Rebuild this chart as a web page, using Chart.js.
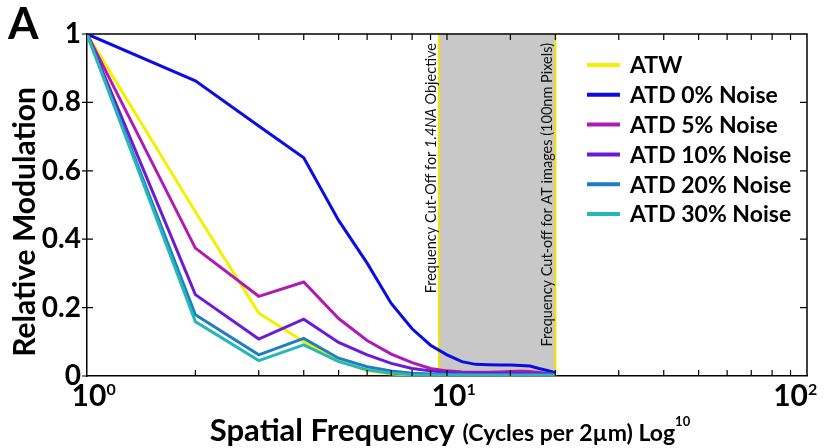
<!DOCTYPE html>
<html>
<head>
<meta charset="utf-8">
<script src="https://cdn.jsdelivr.net/npm/chart.js@4.4.0/dist/chart.umd.min.js"></script>
<style>
  html, body { margin: 0; padding: 0; background: #fff; }
</style>
</head>
<body>
<canvas id="mtf" width="828" height="448"></canvas>
<script>
// spatial frequency samples (cycles per 2um)
const freq = [1, 2, 3, 4, 5, 6, 7, 8, 9, 10, 11, 12, 13, 14, 15, 16, 17, 18, 19, 20];

// relative modulation
const atw    = [1, 0.48, 0.184, 0.100, 0.045, 0.015, 0.006, 0.003, 0.002, 0.001, 0.001, 0.001, 0, 0, 0, 0, 0, 0, 0, 0];
const atd0   = [1, 0.863, 0.731, 0.638, 0.455, 0.330, 0.212, 0.138, 0.090, 0.062, 0.042, 0.034, 0.033, 0.032, 0.032, 0.031, 0.029, 0.022, 0.016, 0.010];
const atd5   = [1, 0.374, 0.233, 0.275, 0.168, 0.104, 0.064, 0.039, 0.022, 0.015, 0.012, 0.011, 0.011, 0.012, 0.013, 0.014, 0.013, 0.010, 0.007, 0.004];
const atd10  = [1, 0.238, 0.108, 0.166, 0.098, 0.062, 0.037, 0.022, 0.015, 0.010, 0.008, 0.008, 0.007, 0.007, 0.007, 0.007, 0.006, 0.006, 0.006, 0.005];
const atd20  = [1, 0.179, 0.062, 0.110, 0.052, 0.027, 0.015, 0.008, 0.006, 0.005, 0.005, 0.004, 0.004, 0.004, 0.004, 0.004, 0.004, 0.004, 0.004, 0.004];
const atd30  = [1, 0.159, 0.045, 0.091, 0.042, 0.018, 0.008, 0.004, 0.003, 0.003, 0.002, 0.002, 0.002, 0.002, 0.002, 0.002, 0.002, 0.002, 0.002, 0.002];

const seriesNames  = ['ATW', 'ATD 0% Noise', 'ATD 5% Noise', 'ATD 10% Noise', 'ATD 20% Noise', 'ATD 30% Noise'];
const seriesValues = [atw, atd0, atd5, atd10, atd20, atd30];
const seriesColors = ['#f2f200', '#0b0be4', '#b01ab4', '#6c1ad6', '#1f7dc2', '#27b7bb'];

// x axis: decades labelled as 10^n
const xTickValues = [1, 10, 100];
const xTickExps   = ['0', '1', '2'];

// shaded band between the two cut-off frequencies
const cutoffs = [9.5, 20];
const cutoffLabels = [
  [['Frequency Cut-Off for ', false], ['1.4NA', true], [' Objective', false]],
  [['Frequency Cut-off for AT images (100nm Pixels)', false]]
];

const FONT = 'Lato, "Open Sans", sans-serif';

function f(size, bold, italic) {
  return (italic ? 'italic ' : '') + (bold ? 'bold ' : '') + size + 'px ' + FONT;
}

// draws pieces of text with mixed fonts one after the other
function drawPieces(ctx, pieces, x, y) {
  let cx = x;
  pieces.forEach(p => {
    ctx.font = p.font;
    ctx.fillText(p.text, cx, y + (p.dy || 0));
    cx += ctx.measureText(p.text).width;
  });
  return cx;
}
function piecesWidth(ctx, pieces) {
  let w = 0;
  pieces.forEach(p => { ctx.font = p.font; w += ctx.measureText(p.text).width; });
  return w;
}

const decor = {
  id: 'decor',
  beforeDatasetsDraw(chart) {
    const { ctx, chartArea: a, scales: { x } } = chart;
    const x0 = x.getPixelForValue(cutoffs[0]);
    const x1 = x.getPixelForValue(cutoffs[1]);
    ctx.save();
    ctx.fillStyle = '#c8c8c8';
    ctx.fillRect(x0, a.top, x1 - x0, a.bottom - a.top);
    ctx.strokeStyle = '#f3e400';
    ctx.lineWidth = 2;
    [x0, x1].forEach(px => {
      ctx.beginPath();
      ctx.moveTo(px, a.top);
      ctx.lineTo(px, a.bottom);
      ctx.stroke();
    });

    // rotated cut-off notes, reading bottom to top, ending near the top
    ctx.fillStyle = '#111';
    ctx.textBaseline = 'middle';
    ctx.textAlign = 'left';
    cutoffLabels.forEach((parts, i) => {
      const pieces = parts.map(p => ({ text: p[0], font: f(14.5, false, p[1]) }));
      const w = piecesWidth(ctx, pieces);
      ctx.save();
      ctx.translate(x.getPixelForValue(cutoffs[i]) - 8, a.top + 9);
      ctx.rotate(-Math.PI / 2);
      drawPieces(ctx, pieces, -w, 0);
      ctx.restore();
    });
    ctx.restore();
  },
  afterDraw(chart) {
    const { ctx, chartArea: a, scales: { x, y } } = chart;
    ctx.save();

    // top and right frame
    ctx.strokeStyle = '#000';
    ctx.lineWidth = 1.5;
    ctx.beginPath();
    ctx.moveTo(a.left, a.top);
    ctx.lineTo(a.right, a.top);
    ctx.lineTo(a.right, a.bottom);
    ctx.stroke();

    // inward tick marks on all four sides
    ctx.lineWidth = 1.2;
    ctx.beginPath();
    x.ticks.forEach(t => {
      const px = x.getPixelForValue(t.value);
      if (px <= a.left + 1 || px >= a.right - 1) return;
      ctx.moveTo(px, a.bottom); ctx.lineTo(px, a.bottom - 6);
      ctx.moveTo(px, a.top); ctx.lineTo(px, a.top + 6);
    });
    y.ticks.forEach(t => {
      const py = y.getPixelForValue(t.value);
      const major = Math.round(t.value * 10) % 2 === 0;
      if (major) { ctx.moveTo(a.left - 5, py); ctx.lineTo(a.left, py); }
      if (py <= a.top + 1 || py >= a.bottom - 1) return;
      ctx.moveTo(a.left, py); ctx.lineTo(a.left + 6, py);
      ctx.moveTo(a.right, py); ctx.lineTo(a.right - 7, py);
    });
    ctx.stroke();

    // x tick labels 10^n
    ctx.fillStyle = '#000';
    ctx.textBaseline = 'alphabetic';
    ctx.textAlign = 'left';
    xTickValues.forEach((v, i) => {
      const px = x.getPixelForValue(v);
      ctx.font = f(30, true);
      const w = ctx.measureText('10').width;
      const start = i === xTickValues.length - 1 ? px - w + 1 : px - w / 2 + 2;
      drawPieces(ctx, [
        { text: '10', font: f(30, true) },
        { text: xTickExps[i], font: f(16, true), dy: -11 }
      ], start, a.bottom + 30);
    });

    // x axis title
    const title = [
      { text: 'Spatial Frequency ', font: f(31, true) },
      { text: '(Cycles per 2\u00b5m) ', font: f(23, true) },
      { text: 'Log', font: f(23, true) },
      { text: '10', font: f(13, true), dy: -15 }
    ];
    const tw = piecesWidth(ctx, title);
    drawPieces(ctx, title, 450 - tw / 2, 441);

    // y axis title
    ctx.save();
    ctx.translate(25, 222);
    ctx.rotate(-Math.PI / 2);
    ctx.textAlign = 'center';
    ctx.textBaseline = 'middle';
    ctx.font = f(30, true);
    ctx.fillText('Relative Modulation', 0, 0);
    ctx.restore();

    // panel letter
    ctx.font = f(44, true);
    ctx.fillText('A', 8, 39);

    // legend inside the plot
    ctx.textBaseline = 'middle';
    chart.data.datasets.forEach((ds, i) => {
      const yy = 65 + i * 29.8;
      ctx.strokeStyle = ds.borderColor;
      ctx.lineWidth = 4;
      ctx.beginPath();
      ctx.moveTo(587, yy);
      ctx.lineTo(620, yy);
      ctx.stroke();
      ctx.fillStyle = '#000';
      ctx.font = f(23, true);
      ctx.fillText(ds.label, 630, yy + 1);
    });
    ctx.restore();
  }
};

const datasets = seriesNames.map((name, i) => ({
  label: name,
  data: freq.map((fq, k) => ({ x: fq, y: seriesValues[i][k] })),
  borderColor: seriesColors[i],
  backgroundColor: seriesColors[i],
  borderWidth: 3,
  pointRadius: 0,
  tension: 0,
  fill: false,
  order: 6 - i
}));

new Chart(document.getElementById('mtf'), {
  type: 'line',
  data: { datasets },
  options: {
    responsive: false,
    animation: false,
    layout: { padding: { left: 0, top: 34, right: 21, bottom: 0 } },
    scales: {
      x: {
        type: 'logarithmic',
        min: 1,
        max: 100,
        ticks: { display: false },
        grid: { drawOnChartArea: false, drawTicks: false },
        border: { display: true, color: '#000', width: 1.5 },
        afterFit(scale) { scale.height = 72; }
      },
      y: {
        min: 0,
        max: 1,
        ticks: {
          stepSize: 0.1,
          padding: 6,
          color: '#000',
          font: { family: FONT, size: 28, weight: 'bold' },
          callback: v => (Math.round(v * 10) % 2 === 0 ? String(+v.toFixed(1)) : '')
        },
        grid: { drawOnChartArea: false, drawTicks: false },
        border: { display: true, color: '#000', width: 1.5 },
        afterFit(scale) { scale.width = 87; }
      }
    },
    plugins: {
      legend: { display: false },
      tooltip: { enabled: false }
    }
  },
  plugins: [decor]
});
</script>
</body>
</html>
